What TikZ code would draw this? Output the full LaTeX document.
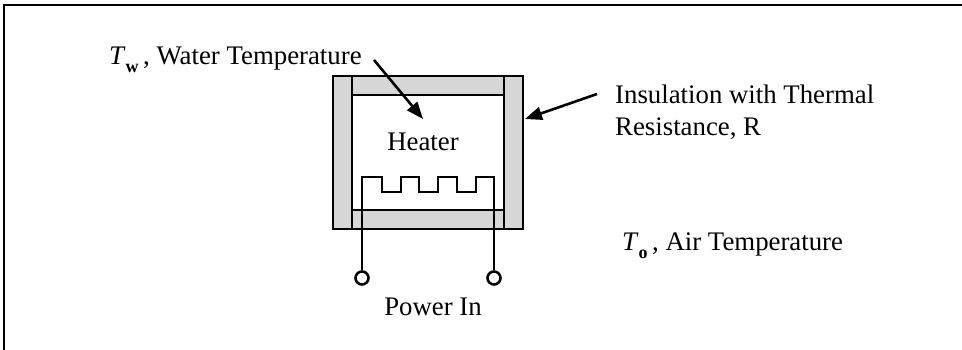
\documentclass[tikz,border=0pt]{standalone}
\usepackage{fontspec}
\setmainfont{Liberation Serif}
\usetikzlibrary{arrows.meta}
\definecolor{insgray}{RGB}{214,214,214}
\begin{document}
\begin{tikzpicture}[x=1pt,y=-1pt,
  lbl/.style={inner sep=0pt,font=\fontsize{26.8}{32}\selectfont},
  wall/.style={line width=2.8pt},
  wire/.style={line width=2.8pt,line join=miter},
  term/.style={circle,draw,line width=2.6pt,minimum size=13pt,inner sep=0pt},
  pointer/.style={line width=2.6pt,-{Triangle[length=17pt,width=13pt]}},
  frameline/.style={line width=2.8pt}]
\useasboundingbox (0,0) rectangle (962,350);
\fill[white] (0,0) rectangle (962,350);
% frame
\draw[frameline] (4,360) -- (4,5) -- (970,5);
% insulation
\fill[insgray] (333,76) rectangle (352,229);
\fill[insgray] (504,76) rectangle (523,229);
\fill[insgray] (352,76) rectangle (504,95);
\fill[insgray] (352,210) rectangle (504,229);
\draw[wall] (333,76) rectangle (523,229);
\draw[wall] (352,76) -- (352,229);
\draw[wall] (504,76) -- (504,229);
\draw[wall] (352,95) -- (504,95);
\draw[wall] (352,210) -- (504,210);
% terminals and coil
\node[term] (p1) at (362,278) {};
\node[term] (p2) at (494,278) {};
\draw[wire] (p1.north) -- (362,177) -- (382,177) -- (382,192) -- (401,192) -- (401,177)
  -- (419,177) -- (419,192) -- (438,192) -- (438,177) -- (457,177) -- (457,192)
  -- (476,192) -- (476,177) -- (494,177) -- (p2.north);
% labels
\node[lbl,anchor=base west] (tw) at (109,65) {\textit{T}\raisebox{-0.28em}{\fontsize{18}{18}\selectfont\bfseries w}\,, Water Temperature};
\coordinate (twend) at (374,60);
\coordinate (waterpt) at (423,119);
\draw[pointer] (twend) -- (waterpt);
\node[lbl,anchor=base] (heater) at (423,151) {Heater};
\node[lbl,anchor=base west] (ins1) at (615,104) {Insulation with Thermal};
\node[lbl,anchor=base west] (ins2) at (615,136) {Resistance, R};
\coordinate (insstart) at (597,94);
\coordinate (inspt) at (525,119);
\draw[pointer] (insstart) -- (inspt);
\node[lbl,anchor=base west] (to) at (622,251) {\textit{T}\raisebox{-0.28em}{\fontsize{18}{18}\selectfont\bfseries o}\,, Air Temperature};
\node[lbl,anchor=base] (pw) at (433,315) {Power In};
\end{tikzpicture}
\end{document}
